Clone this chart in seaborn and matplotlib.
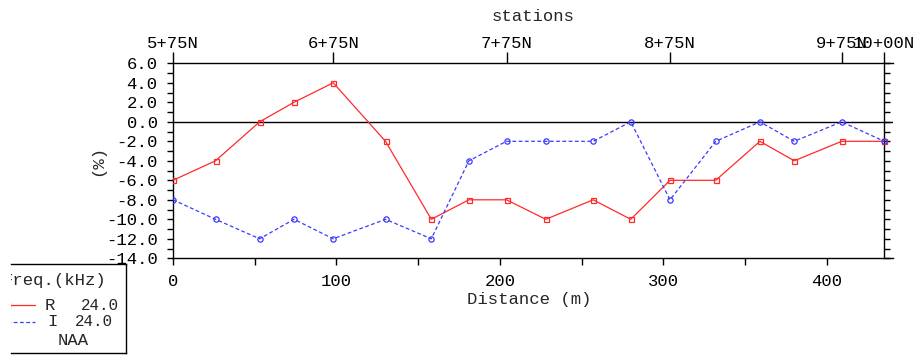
import numpy as np
import pandas as pd
import matplotlib
matplotlib.use("Agg")
import matplotlib.pyplot as plt
from matplotlib.ticker import MultipleLocator, FixedLocator
from matplotlib.lines import Line2D
import seaborn as sns

# ---- data ----
distance = [0, 26, 53, 74, 98, 130, 158, 181, 204, 228, 257, 280, 304, 332, 359, 380, 409, 435]
r_values = [-6, -4, 0, 2, 4, -2, -10, -8, -8, -10, -8, -10, -6, -6, -2, -4, -2, -2]
i_values = [-8, -10, -12, -10, -12, -10, -12, -4, -2, -2, -2, 0, -8, -2, 0, -2, 0, -2]
station_pos = [0, 98, 204, 304, 409, 435]
station_labels = ["5+75N", "6+75N", "7+75N", "8+75N", "9+75N", "10+00N"]
y_ticks = list(range(-14, 7, 2))
x_ticks = [0, 100, 200, 300, 400]
legend_rows = [("R", "24.0"), ("I", "24.0")]

df = pd.DataFrame({"distance": distance, "R": r_values, "I": i_values})

sns.set_theme(style="ticks")
plt.rcParams["font.family"] = ["Liberation Mono", "DejaVu Sans"]
FS = 12.4
RED = "#ff2a2a"
BLUE = "#3a3aff"

W, H = 914, 356
fig = plt.figure(figsize=(W / 100, H / 100), dpi=100)
ax = fig.add_axes([173 / W, 1 - 258.3 / H, 720 / W, 195 / H])

ax.axhline(0, color="black", lw=1.0, zorder=1)

sns.lineplot(data=df, x="distance", y="R", ax=ax, color=RED, lw=0.9,
             marker="s", markersize=3.6, markerfacecolor="none",
             markeredgecolor=RED, markeredgewidth=0.9, sort=False, zorder=3)
sns.lineplot(data=df, x="distance", y="I", ax=ax, color=BLUE, lw=0.9,
             marker="o", markersize=3.8, markerfacecolor="none",
             markeredgecolor=BLUE, markeredgewidth=0.9, sort=False, zorder=3)
ax.lines[-1].set_dashes((3.0, 2.0))

ax.set_xlim(0, 440.4)
ax.set_ylim(-14, 6)

for s in ax.spines.values():
    s.set_color("black")
    s.set_linewidth(1.0)
ax.spines["right"].set_position(("data", 435))
ax.spines["top"].set_visible(False)

ax.set_yticks(y_ticks)
ax.set_yticklabels([f"{v:.1f}" for v in y_ticks], fontsize=FS)
ax.yaxis.set_minor_locator(MultipleLocator(1))
ax.tick_params(axis="y", which="both", direction="out", length=4, width=1,
               left=True, right=True, labelright=False, pad=7, colors="black")

ax.set_xticks(x_ticks)
ax.set_xticklabels([str(v) for v in x_ticks], fontsize=FS)
ax.xaxis.set_minor_locator(FixedLocator([50, 150, 250, 350]))
ax.tick_params(axis="x", which="both", direction="out", length=5, width=1,
               bottom=True, top=False, pad=6, colors="black")

ax.set_xlabel("Distance (m)", fontsize=FS)
ax.xaxis.set_label_coords((529 - 173) / 720, (258.3 - 292) / 195)
ax.set_ylabel("(%)", fontsize=FS)
ax.yaxis.set_label_coords((105 - 173) / 720, 0.5)

sec = ax.secondary_xaxis("top")
sec.set_xticks(station_pos)
sec.set_xticklabels(station_labels, fontsize=FS)
sec.tick_params(axis="x", direction="out", length=8, width=1, pad=1, colors="black")
sec.spines["top"].set_color("black")
sec.spines["top"].set_linewidth(1.0)
sec.set_xlabel("stations", fontsize=FS, labelpad=11)

# ---- legend box (clipped at left like the reference) ----
lax = fig.add_axes([11 / W, (H - 353) / H, 115 / W, 89 / H])
lax.set_xlim(0, 115)
lax.set_ylim(89, 0)
lax.set_xticks([])
lax.set_yticks([])
lax.set_facecolor("none")
lax.spines["left"].set_visible(False)
for k in ("top", "right", "bottom"):
    lax.spines[k].set_color("black")
    lax.spines[k].set_linewidth(1.0)

lax.text(-9, 17, "Freq.(kHz)", fontsize=FS, ha="left", va="center", clip_on=True)
rows_y = [41, 57.5]
styles = [(RED, "s", "-"), (BLUE, "o", (0, (3, 2)))]
name_x = [34, 36]
val_x = [108, 102]
for (name, val), y, (c, m, ls), nx, vx in zip(legend_rows, rows_y, styles, name_x, val_x):
    lax.add_line(Line2D([-4, 24], [y, y], color=c, lw=0.9, linestyle=ls, clip_on=True))
    lax.add_line(Line2D([-4], [y], color=c, marker=m, markersize=3.8,
                        markerfacecolor="none", markeredgewidth=0.9, clip_on=True))
    lax.text(nx, y, name, fontsize=FS, ha="left", va="center")
    lax.text(vx, y, val, fontsize=FS - 1, ha="right", va="center")
lax.text(62, 76.5, "NAA", fontsize=FS, ha="center", va="center")

fig.savefig("out.png", dpi=100)
